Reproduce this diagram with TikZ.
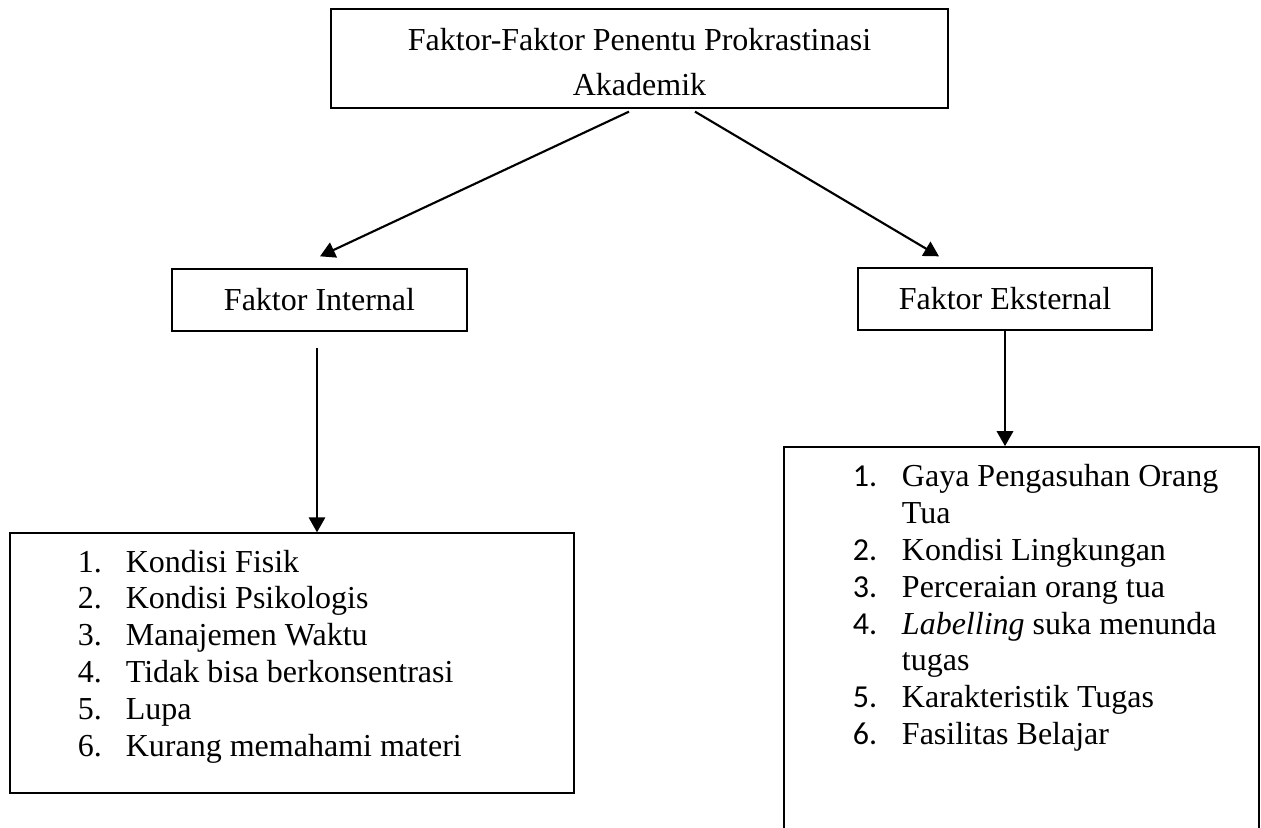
\documentclass[tikz,border=0pt]{standalone}
\usepackage{fontspec}
\setmainfont{Liberation Serif}
\newfontfamily\calibri{Carlito}
\usepackage{tikz}
\usetikzlibrary{arrows.meta, positioning}

\newcommand{\butir}[2]{\makebox[18pt][l]{#1}#2}
\newcommand{\butirC}[2]{\makebox[18.4pt][l]{\calibri #1}#2}

\begin{document}
\begin{tikzpicture}[x=0.375pt, y=-0.375pt,
    kotak/.style={draw, line width=0.5pt, font=\fontsize{12}{13.8}\selectfont},
    daftar/.style={inner sep=0pt, align=left, anchor=north west, font=\fontsize{12}{13.8}\selectfont},
    panah/.style={-{Triangle[length=5.6pt, width=6.1pt]}, line width=0.8pt}]
            \useasboundingbox (0,0) rectangle (1261,828);
            \clip (0,0) rectangle (1261,828);

            \node[kotak, minimum width=231.4pt, minimum height=37.1pt, align=center, font=\fontsize{12}{16.9}\selectfont] (judul) at (639.5,58.5) {\rule{0pt}{11pt}Faktor-Faktor Penentu Prokrastinasi\\Akademik};

            \node[kotak, minimum width=110.6pt, minimum height=23.25pt] (internal) at (319.5,300) {Faktor Internal};
            \node[kotak, minimum width=110.25pt, minimum height=23.25pt] (eksternal) at (1005,299) {Faktor Eksternal};

            \node[kotak, minimum width=211.5pt, minimum height=97.5pt] (kotakInt) at (292,663) {};
            \node[kotak, minimum width=178.1pt, minimum height=170pt] (kotakEks) at (1021.5,673.5) {};

            \node[daftar] (isiInt) at ([shift={(68,17)}]kotakInt.north west) {\butir{1.}{Kondisi Fisik}\\\butir{2.}{Kondisi Psikologis}\\\butir{3.}{Manajemen Waktu}\\\butir{4.}{Tidak bisa berkonsentrasi}\\\butir{5.}{Lupa}\\\butir{6.}{Kurang memahami materi}};
            \node[daftar] (isiEks) at ([shift={(69,18)}]kotakEks.north west) {\butirC{1.}{Gaya Pengasuhan Orang}\\\butirC{}{Tua}\\\butirC{2.}{Kondisi Lingkungan}\\\butirC{3.}{Perceraian orang tua}\\\butirC{4.}{\textit{Labelling} suka menunda}\\\butirC{}{tugas}\\\butirC{5.}{Karakteristik Tugas}\\\butirC{6.}{Fasilitas Belajar}};

            \coordinate (ujungInt) at ([shift={(-2.5,16)}]internal.south);

            \draw[panah] ([shift={(-10.5,3)}]judul.south) -- ([shift={(0.5,-12)}]internal.north);
            \draw[panah] ([shift={(55.5,3)}]judul.south) -- ([shift={(-66,-11)}]eksternal.north);
            \draw[panah] (ujungInt) -- (ujungInt |- kotakInt.north);
            \draw[panah] (eksternal.south) -- (eksternal.south |- kotakEks.north);
\end{tikzpicture}
\end{document}
